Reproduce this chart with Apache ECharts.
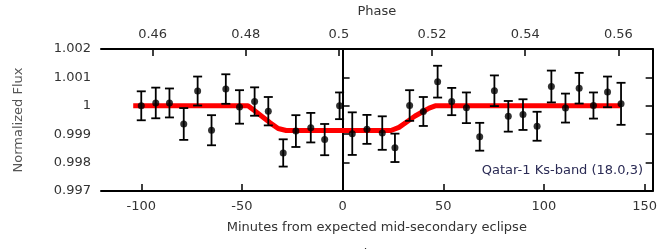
<!DOCTYPE html>
<html>
<head>
    <meta charset="utf-8">
    <title>Qatar-1 Ks-band secondary eclipse</title>
    <script src="https://cdn.jsdelivr.net/npm/echarts@6/dist/echarts.min.js"></script>
    <style>
        html, body { margin: 0; padding: 0; background: #fff; }
        #main { width: 660px; height: 249px; }
    </style>
</head>
<body>
<div id="main"></div>
<script>
    // binned photometry, minutes from expected mid-secondary eclipse
    var minutes = [-100, -92.8, -86, -78.9, -72, -65.1, -58, -51.2, -43.7, -36.9, -29.5, -23.2, -15.8, -8.9, -1.5,
        4.8, 12.1, 19.7, 26, 33.3, 40.1, 47.2, 54.2, 61.5, 68.1, 75.4, 82.3, 89.6, 96.6, 103.7, 110.7, 117.5,
        124.6, 131.6, 138.3];
    var flux = [1.0000, 1.0001, 1.0001, 0.99936, 1.00052, 0.99914, 1.00059, 0.99996, 1.00015, 0.99981, 0.99834,
        0.99911, 0.99923, 0.99881, 1.0000, 0.99902, 0.99917, 0.99904, 0.99852, 1.00001, 0.9998, 1.00085, 1.00015,
        0.99993, 0.99891, 1.00053, 0.99963, 0.99969, 0.99928, 1.00068, 0.99992, 1.00062, 1.00001, 1.00049, 1.00007];
    var fluxErr = [0.00051, 0.00054, 0.00051, 0.00056, 0.00051, 0.00053, 0.00052, 0.00059, 0.0005, 0.0005, 0.00048,
        0.00056, 0.00052, 0.00055, 0.00047, 0.00075, 0.00051, 0.00059, 0.0005, 0.00054, 0.00051, 0.00056, 0.00048,
        0.00054, 0.00049, 0.00054, 0.00054, 0.00054, 0.00051, 0.00056, 0.00051, 0.00054, 0.00046, 0.00054, 0.00074];

    // best-fit eclipse model (red curve)
    var modelX = [-104, -47, -44, -40, -36, -32, -28, 24, 28, 32, 36, 40, 43, 46, 138];
    var modelY = [1, 1, 0.99984, 0.99962, 0.9994, 0.9992, 0.99913, 0.99913, 0.99924, 0.99944, 0.99964, 0.9998,
        0.99992, 1, 1];

    var minuteTicks = [-100, -50, 0, 50, 100, 150];
    var phaseTicks = [0.46, 0.48, 0.5, 0.52, 0.54, 0.56];
    var fluxTicks = [0.997, 0.998, 0.999, 1, 1.001, 1.002];

    var label = 'Qatar-1 Ks-band (18.0,3)';

    var points = [], model = [];
    for (var i = 0; i < minutes.length; i++) {
        points.push([minutes[i], flux[i], fluxErr[i]]);
    }
    for (var j = 0; j < modelX.length; j++) {
        model.push([modelX[j], modelY[j]]);
    }

    var font = 'DejaVu Sans';
    var txt = '#333';

    function tickAxis(values) {
        return { inside: true, length: 7, customValues: values, lineStyle: { color: '#000', width: 1.5 } };
    }

    var myChart = echarts.init(document.getElementById('main'), null, { renderer: 'canvas' });

    var option = {
        animation: false,
        backgroundColor: '#fff',
        grid: { left: 101, right: 7, top: 48, bottom: 58 },
        xAxis: [{
            type: 'value',
            position: 'bottom',
            min: -120,
            max: 154,
            name: 'Minutes from expected mid-secondary eclipse',
            nameLocation: 'middle',
            nameGap: 30,
            nameTextStyle: { fontFamily: font, fontSize: 13, color: txt },
            axisLine: { lineStyle: { color: '#000', width: 2 } },
            axisTick: tickAxis(minuteTicks),
            axisLabel: {
                customValues: minuteTicks, margin: 9, fontFamily: font, fontSize: 13, color: txt,
                formatter: function (v) { return String(v); }
            },
            splitLine: { show: false }
        }, {
            type: 'value',
            position: 'top',
            min: 0.44891,
            max: 0.56736,
            name: 'Phase',
            nameLocation: 'middle',
            nameGap: 31,
            nameTextStyle: { fontFamily: font, fontSize: 13, color: txt },
            axisLine: { lineStyle: { color: '#000', width: 2 } },
            axisTick: tickAxis(phaseTicks),
            axisLabel: {
                customValues: phaseTicks, margin: 8, fontFamily: font, fontSize: 13, color: txt,
                formatter: function (v) { return String(+v.toFixed(2)); }
            },
            splitLine: { show: false }
        }],
        yAxis: [{
            type: 'value',
            position: 'left',
            min: 0.997,
            max: 1.002,
            name: 'Normalized Flux',
            nameLocation: 'middle',
            nameGap: 76,
            nameTextStyle: { fontFamily: font, fontSize: 13, color: '#555' },
            axisLine: { show: true, lineStyle: { color: '#000', width: 2 } },
            axisTick: tickAxis(fluxTicks),
            axisLabel: {
                customValues: fluxTicks, margin: 10, fontFamily: font, fontSize: 13, color: txt,
                formatter: function (v) { return String(+v.toFixed(3)); }
            },
            splitLine: { show: false }
        }, {
            type: 'value',
            position: 'right',
            min: 0.997,
            max: 1.002,
            axisLine: { show: true, lineStyle: { color: '#000', width: 2 } },
            axisTick: tickAxis(fluxTicks),
            axisLabel: { show: false },
            splitLine: { show: false }
        }],
        graphic: [{
            type: 'text',
            right: 17,
            top: 164,
            style: { text: label, fontFamily: font, fontSize: 13, fill: '#2b2b55' }
        }, {
            // next panel's title, cut off by the bottom edge
            type: 'text',
            left: 356,
            top: 248,
            style: { text: 'Phase', fontFamily: font, fontSize: 13, fill: txt }
        }],
        series: [{
            // eclipse model
            type: 'line',
            data: model,
            showSymbol: false,
            lineStyle: { color: '#ff0000', width: 5, join: 'round' },
            z: 1
        }, {
            // error bars
            type: 'custom',
            data: points,
            z: 2,
            renderItem: function (params, api) {
                var x = api.value(0), y = api.value(1), e = api.value(2);
                var hi = api.coord([x, y + e]);
                var lo = api.coord([x, y - e]);
                var w = 4.5;
                var st = { stroke: '#000', lineWidth: 1.8 };
                return {
                    type: 'group',
                    children: [
                        { type: 'line', shape: { x1: hi[0], y1: hi[1], x2: lo[0], y2: lo[1] }, style: st },
                        { type: 'line', shape: { x1: hi[0] - w, y1: hi[1], x2: hi[0] + w, y2: hi[1] }, style: st },
                        { type: 'line', shape: { x1: lo[0] - w, y1: lo[1], x2: lo[0] + w, y2: lo[1] }, style: st }
                    ]
                };
            }
        }, {
            type: 'scatter',
            data: points,
            symbol: 'circle',
            symbolSize: 7,
            itemStyle: { color: '#000' },
            z: 3
        }]
    };

    myChart.setOption(option);
</script>
</body>
</html>
